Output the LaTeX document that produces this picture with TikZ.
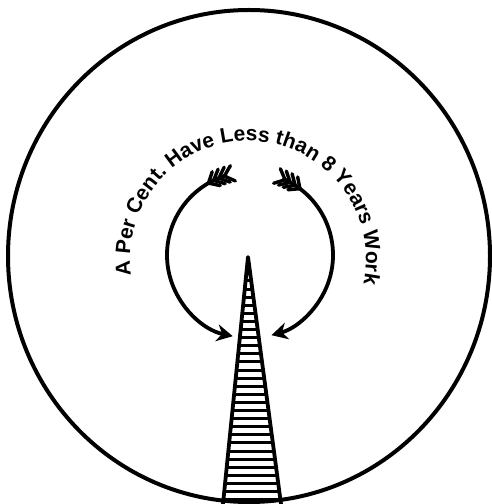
\documentclass[tikz,border=0pt]{standalone}
\usepackage{fontspec}
\newfontfamily\letterfont{Liberation Sans}
\usetikzlibrary{decorations.text, arrows.meta, calc}
\begin{document}
\begin{tikzpicture}[x=1pt,y=1pt,
  outline/.style={line width=4pt},
  shaft/.style={line width=3.8pt, -{Stealth[length=16pt,width=17pt]}},
  feather/.style={line width=3.4pt, line cap=round},
  rail/.style={line width=3.8pt, line join=round},
  rung/.style={line width=3pt}]
\useasboundingbox (0,0) rectangle (491,504);
% outer circle
\coordinate (O) at (249,248);
\draw[outline] (O) ellipse [x radius=241, y radius=246];
% curved lettering
\coordinate (T) at (248,245);
\path[decorate, decoration={text along path,
  text={|\letterfont\bfseries\fontsize{21pt}{25pt}\selectfont|A Per Cent. Have Less than 8 Years Work},
  text align=center}]
  ($(T)+(200:118)$) arc[start angle=200, end angle=-24, radius=118];
% arrows
\coordinate (A) at (250,249);
\coordinate (nockL) at ($(A)+(106:83)$);
\coordinate (nockR) at ($(A)+(67:83)$);
\draw[shaft] (nockL) arc[start angle=106, end angle=258, radius=83];
\draw[shaft] (nockR) arc[start angle=67, end angle=-75, radius=83];
\foreach \a in {108,112,116,120} {
  \draw[feather] ($(A)+(\a:83)$) -- +(\a-90+42:12);
  \draw[feather] ($(A)+(\a:83)$) -- +(\a-90-42:12);
}
\foreach \a in {65,61,57,53} {
  \draw[feather] ($(A)+(\a:83)$) -- +(\a+90+42:12);
  \draw[feather] ($(A)+(\a:83)$) -- +(\a+90-42:12);
}
% ladder
\coordinate (apex) at (248,247);
\coordinate (bl) at (223,0);
\coordinate (br) at (281,0);
\draw[rail] (bl) -- (apex) -- (br);
\foreach \k in {0,...,27} {
  \pgfmathsetmacro\t{(24+8.1*\k)/247}
  \draw[rung] ($(apex)!\t!(bl)$) -- ($(apex)!\t!(br)$);
}
\end{tikzpicture}
\end{document}
